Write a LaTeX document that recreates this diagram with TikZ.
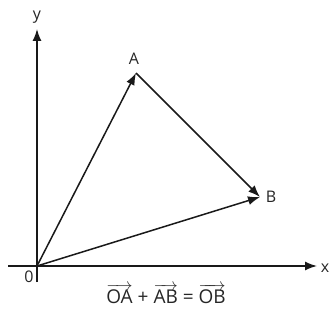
\documentclass[tikz,border=0pt]{standalone}
\usepackage{fontspec}
\usepackage{amsmath}
\setmainfont{Open Sans}
\usetikzlibrary{arrows.meta}
\newcommand\vecarr[1]{\ensuremath{\overrightarrow{\text{#1}}}}
\begin{document}
\begin{tikzpicture}[x=1pt,y=-1pt,
  vec/.style={line width=1.5pt,draw=black!90,-{Latex[length=12pt,width=9pt]}},
  lbl/.style={font=\fontsize{16}{18}\selectfont,text=black!85,inner sep=0pt}]
\useasboundingbox (0,0) rectangle (332,321);
\coordinate (O) at (37,266);
\coordinate (A) at (136,73);
\coordinate (B) at (260,197);
\coordinate (xs) at (8,266);
\coordinate (xe) at (317,266);
\coordinate (ys) at (37,282);
\coordinate (ye) at (37,29);
\draw[vec] (xs) -- (xe);
\draw[vec] (ys) -- (ye);
\draw[vec] (O) -- (A);
\draw[vec] (A) -- (B);
\draw[vec] (O) -- (B);
\node[lbl] (ly) at (37,17) {y};
\node[lbl] (lA) at (134,59) {A};
\node[lbl] (lB) at (271,197) {B};
\node[lbl] (lx) at (325,268) {x};
\node[lbl] (l0) at (29,277) {0};
\node[lbl,font=\fontsize{19}{21}\selectfont] (eq) at (166,294) {\vecarr{OA} + \vecarr{AB} = \vecarr{OB}};
\end{tikzpicture}
\end{document}
